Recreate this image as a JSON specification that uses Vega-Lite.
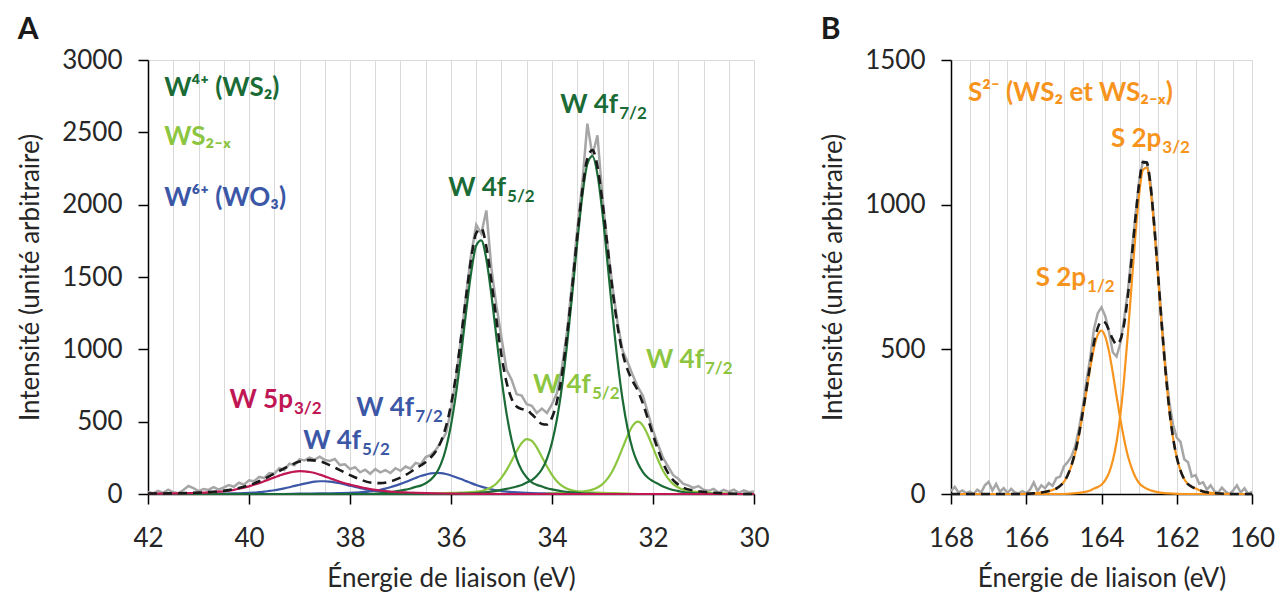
{
  "$schema": "https://vega.github.io/schema/vega-lite/v6.json",
  "padding": {"left": 17, "top": 14, "right": 4, "bottom": 0},
  "spacing": 50,
  "config": {
    "font": "Lato",
    "view": {"stroke": "#d9d9d9", "strokeWidth": 1},
    "axis": {"labelFont": "Lato", "titleFont": "Lato", "labelFontSize": 26, "titleFontSize": 26, "titleFontWeight": "normal", "labelColor": "#262626", "titleColor": "#262626", "domainColor": "#000000", "tickColor": "#000000", "domainWidth": 1.5, "tickWidth": 1.5, "tickSize": 10},
    "title": {"font": "Lato", "fontSize": 30, "fontWeight": "bold", "color": "#1a1a1a", "anchor": "start", "frame": "bounds", "offset": 2}
  },
  "datasets": {
    "Araw": [{"x":42,"y":15},{"x":41.9,"y":5},{"x":41.8,"y":22},{"x":41.7,"y":8},{"x":41.6,"y":30},{"x":41.5,"y":12},{"x":41.4,"y":5},{"x":41.3,"y":28},{"x":41.2,"y":55},{"x":41.1,"y":40},{"x":41,"y":20},{"x":40.9,"y":35},{"x":40.8,"y":28},{"x":40.7,"y":48},{"x":40.6,"y":30},{"x":40.5,"y":45},{"x":40.4,"y":62},{"x":40.3,"y":50},{"x":40.2,"y":78},{"x":40.1,"y":65},{"x":40,"y":95},{"x":39.9,"y":88},{"x":39.8,"y":118},{"x":39.7,"y":110},{"x":39.6,"y":145},{"x":39.5,"y":140},{"x":39.4,"y":178},{"x":39.3,"y":165},{"x":39.2,"y":210},{"x":39.1,"y":198},{"x":39,"y":240},{"x":38.9,"y":232},{"x":38.8,"y":252},{"x":38.7,"y":238},{"x":38.6,"y":258},{"x":38.5,"y":236},{"x":38.4,"y":228},{"x":38.3,"y":242},{"x":38.2,"y":200},{"x":38.1,"y":205},{"x":38,"y":172},{"x":37.9,"y":185},{"x":37.8,"y":150},{"x":37.7,"y":168},{"x":37.6,"y":140},{"x":37.5,"y":172},{"x":37.4,"y":150},{"x":37.3,"y":165},{"x":37.2,"y":145},{"x":37.1,"y":178},{"x":37,"y":160},{"x":36.9,"y":190},{"x":36.8,"y":175},{"x":36.7,"y":215},{"x":36.6,"y":205},{"x":36.5,"y":255},{"x":36.4,"y":270},{"x":36.3,"y":305},{"x":36.2,"y":360},{"x":36.1,"y":420},{"x":36,"y":580},{"x":35.9,"y":800},{"x":35.8,"y":1080},{"x":35.7,"y":1380},{"x":35.6,"y":1660},{"x":35.5,"y":1860},{"x":35.4,"y":1800},{"x":35.3,"y":1960},{"x":35.2,"y":1560},{"x":35.1,"y":1300},{"x":35,"y":1080},{"x":34.9,"y":860},{"x":34.8,"y":790},{"x":34.7,"y":690},{"x":34.6,"y":680},{"x":34.5,"y":620},{"x":34.4,"y":610},{"x":34.3,"y":560},{"x":34.2,"y":590},{"x":34.1,"y":560},{"x":34,"y":620},{"x":33.9,"y":700},{"x":33.8,"y":880},{"x":33.7,"y":1130},{"x":33.6,"y":1470},{"x":33.5,"y":1830},{"x":33.4,"y":2150},{"x":33.3,"y":2560},{"x":33.2,"y":2340},{"x":33.1,"y":2480},{"x":33,"y":2050},{"x":32.9,"y":1720},{"x":32.8,"y":1430},{"x":32.7,"y":1180},{"x":32.6,"y":990},{"x":32.5,"y":910},{"x":32.4,"y":820},{"x":32.3,"y":740},{"x":32.2,"y":680},{"x":32.1,"y":560},{"x":32,"y":440},{"x":31.9,"y":340},{"x":31.8,"y":250},{"x":31.7,"y":190},{"x":31.6,"y":130},{"x":31.5,"y":105},{"x":31.4,"y":70},{"x":31.3,"y":60},{"x":31.2,"y":42},{"x":31.1,"y":55},{"x":31,"y":30},{"x":30.9,"y":22},{"x":30.8,"y":35},{"x":30.7,"y":10},{"x":30.6,"y":28},{"x":30.5,"y":15},{"x":30.4,"y":30},{"x":30.3,"y":8},{"x":30.2,"y":25},{"x":30.1,"y":12},{"x":30,"y":18}],
    "Aenv": [{"x":42,"y":3},{"x":41.6,"y":4},{"x":41.2,"y":7},{"x":40.8,"y":13},{"x":40.6,"y":19},{"x":40.4,"y":27},{"x":40.2,"y":41},{"x":40,"y":61},{"x":39.8,"y":88},{"x":39.6,"y":122},{"x":39.4,"y":159},{"x":39.2,"y":195},{"x":39,"y":224},{"x":38.8,"y":234},{"x":38.6,"y":226},{"x":38.4,"y":199},{"x":38.2,"y":165},{"x":38,"y":130},{"x":37.8,"y":101},{"x":37.6,"y":79},{"x":37.4,"y":75},{"x":37.2,"y":87},{"x":37,"y":113},{"x":36.9,"y":131},{"x":36.8,"y":152},{"x":36.7,"y":176},{"x":36.6,"y":197},{"x":36.5,"y":221},{"x":36.4,"y":253},{"x":36.3,"y":296},{"x":36.2,"y":362},{"x":36.1,"y":466},{"x":36,"y":617},{"x":35.9,"y":824},{"x":35.8,"y":1084},{"x":35.7,"y":1368},{"x":35.6,"y":1629},{"x":35.5,"y":1804},{"x":35.4,"y":1836},{"x":35.3,"y":1709},{"x":35.2,"y":1473},{"x":35.1,"y":1203},{"x":35,"y":958},{"x":34.9,"y":772},{"x":34.8,"y":659},{"x":34.7,"y":605},{"x":34.6,"y":588},{"x":34.5,"y":582},{"x":34.4,"y":551},{"x":34.3,"y":516},{"x":34.2,"y":484},{"x":34.1,"y":480},{"x":34,"y":528},{"x":33.9,"y":643},{"x":33.8,"y":834},{"x":33.7,"y":1105},{"x":33.6,"y":1429},{"x":33.5,"y":1781},{"x":33.4,"y":2097},{"x":33.3,"y":2318},{"x":33.2,"y":2377},{"x":33.1,"y":2264},{"x":33,"y":2015},{"x":32.9,"y":1708},{"x":32.8,"y":1407},{"x":32.7,"y":1155},{"x":32.6,"y":972},{"x":32.5,"y":856},{"x":32.4,"y":779},{"x":32.3,"y":714},{"x":32.2,"y":625},{"x":32.1,"y":518},{"x":32,"y":409},{"x":31.9,"y":305},{"x":31.8,"y":213},{"x":31.7,"y":144},{"x":31.6,"y":96},{"x":31.5,"y":65},{"x":31.4,"y":44},{"x":31.2,"y":24},{"x":31,"y":15},{"x":30.6,"y":4},{"x":30,"y":0}],
    "Afit": [
      {"s":"P5","g":"bl","x":30,"y":0},{"s":"P5","g":"bl","x":33,"y":0},{"s":"P5","g":"bl","x":33.5,"y":2},{"s":"P5","g":"bl","x":34,"y":4},{"s":"P5","g":"bl","x":34.4,"y":7},{"s":"P5","g":"bl","x":34.6,"y":10},{"s":"P5","g":"bl","x":34.8,"y":14},{"s":"P5","g":"bl","x":34.9,"y":16},{"s":"P5","g":"bl","x":35,"y":20},{"s":"P5","g":"bl","x":35.1,"y":26},{"s":"P5","g":"bl","x":35.2,"y":32},{"s":"P5","g":"bl","x":35.3,"y":41},{"s":"P5","g":"bl","x":35.4,"y":51},{"s":"P5","g":"bl","x":35.5,"y":62},{"s":"P5","g":"bl","x":35.6,"y":75},{"s":"P5","g":"bl","x":35.7,"y":89},{"s":"P5","g":"bl","x":35.8,"y":103},{"s":"P5","g":"bl","x":35.9,"y":116},{"s":"P5","g":"bl","x":36,"y":128},{"s":"P5","g":"bl","x":36.1,"y":138},{"s":"P5","g":"bl","x":36.2,"y":144},{"s":"P5","g":"bl","x":36.3,"y":145},{"s":"P5","g":"bl","x":36.4,"y":142},{"s":"P5","g":"bl","x":36.5,"y":134},{"s":"P5","g":"bl","x":36.6,"y":124},{"s":"P5","g":"bl","x":36.7,"y":111},{"s":"P5","g":"bl","x":36.8,"y":97},{"s":"P5","g":"bl","x":36.9,"y":83},{"s":"P5","g":"bl","x":37,"y":70},{"s":"P5","g":"bl","x":37.1,"y":58},{"s":"P5","g":"bl","x":37.2,"y":47},{"s":"P5","g":"bl","x":37.3,"y":37},{"s":"P5","g":"bl","x":37.4,"y":29},{"s":"P5","g":"bl","x":37.5,"y":23},{"s":"P5","g":"bl","x":37.6,"y":18},{"s":"P5","g":"bl","x":37.8,"y":12},{"s":"P5","g":"bl","x":38,"y":8},{"s":"P5","g":"bl","x":38.2,"y":6},{"s":"P5","g":"bl","x":38.6,"y":4},{"s":"P5","g":"bl","x":39,"y":2},{"s":"P5","g":"bl","x":39.5,"y":0},{"s":"P5","g":"bl","x":42,"y":0},
      {"s":"P6","g":"bl","x":30,"y":0},{"s":"P6","g":"bl","x":35.5,"y":0},{"s":"P6","g":"bl","x":36,"y":1},{"s":"P6","g":"bl","x":36.5,"y":3},{"s":"P6","g":"bl","x":36.8,"y":5},{"s":"P6","g":"bl","x":37,"y":7},{"s":"P6","g":"bl","x":37.2,"y":11},{"s":"P6","g":"bl","x":37.3,"y":13},{"s":"P6","g":"bl","x":37.4,"y":17},{"s":"P6","g":"bl","x":37.5,"y":22},{"s":"P6","g":"bl","x":37.6,"y":27},{"s":"P6","g":"bl","x":37.7,"y":34},{"s":"P6","g":"bl","x":37.8,"y":41},{"s":"P6","g":"bl","x":37.9,"y":49},{"s":"P6","g":"bl","x":38,"y":57},{"s":"P6","g":"bl","x":38.1,"y":66},{"s":"P6","g":"bl","x":38.2,"y":74},{"s":"P6","g":"bl","x":38.3,"y":80},{"s":"P6","g":"bl","x":38.4,"y":85},{"s":"P6","g":"bl","x":38.5,"y":88},{"s":"P6","g":"bl","x":38.6,"y":88},{"s":"P6","g":"bl","x":38.7,"y":85},{"s":"P6","g":"bl","x":38.8,"y":79},{"s":"P6","g":"bl","x":38.9,"y":72},{"s":"P6","g":"bl","x":39,"y":64},{"s":"P6","g":"bl","x":39.1,"y":56},{"s":"P6","g":"bl","x":39.2,"y":47},{"s":"P6","g":"bl","x":39.3,"y":39},{"s":"P6","g":"bl","x":39.4,"y":32},{"s":"P6","g":"bl","x":39.5,"y":26},{"s":"P6","g":"bl","x":39.6,"y":21},{"s":"P6","g":"bl","x":39.7,"y":16},{"s":"P6","g":"bl","x":39.8,"y":13},{"s":"P6","g":"bl","x":39.9,"y":10},{"s":"P6","g":"bl","x":40.1,"y":6},{"s":"P6","g":"bl","x":40.3,"y":4},{"s":"P6","g":"bl","x":40.6,"y":3},{"s":"P6","g":"bl","x":41,"y":1},{"s":"P6","g":"bl","x":41.5,"y":0},{"s":"P6","g":"bl","x":42,"y":0},
      {"s":"P3","g":"lg","x":30,"y":0},{"s":"P3","g":"lg","x":30.4,"y":0},{"s":"P3","g":"lg","x":30.6,"y":4},{"s":"P3","g":"lg","x":30.8,"y":7},{"s":"P3","g":"lg","x":31,"y":12},{"s":"P3","g":"lg","x":31.2,"y":17},{"s":"P3","g":"lg","x":31.3,"y":22},{"s":"P3","g":"lg","x":31.4,"y":30},{"s":"P3","g":"lg","x":31.5,"y":45},{"s":"P3","g":"lg","x":31.6,"y":68},{"s":"P3","g":"lg","x":31.7,"y":106},{"s":"P3","g":"lg","x":31.8,"y":161},{"s":"P3","g":"lg","x":31.9,"y":235},{"s":"P3","g":"lg","x":32,"y":320},{"s":"P3","g":"lg","x":32.1,"y":406},{"s":"P3","g":"lg","x":32.2,"y":473},{"s":"P3","g":"lg","x":32.3,"y":500},{"s":"P3","g":"lg","x":32.4,"y":473},{"s":"P3","g":"lg","x":32.5,"y":406},{"s":"P3","g":"lg","x":32.6,"y":320},{"s":"P3","g":"lg","x":32.7,"y":235},{"s":"P3","g":"lg","x":32.8,"y":161},{"s":"P3","g":"lg","x":32.9,"y":106},{"s":"P3","g":"lg","x":33,"y":68},{"s":"P3","g":"lg","x":33.1,"y":45},{"s":"P3","g":"lg","x":33.2,"y":30},{"s":"P3","g":"lg","x":33.3,"y":22},{"s":"P3","g":"lg","x":33.4,"y":17},{"s":"P3","g":"lg","x":33.6,"y":12},{"s":"P3","g":"lg","x":33.8,"y":7},{"s":"P3","g":"lg","x":34,"y":4},{"s":"P3","g":"lg","x":34.2,"y":0},{"s":"P3","g":"lg","x":42,"y":0},
      {"s":"P4","g":"lg","x":30,"y":0},{"s":"P4","g":"lg","x":32.2,"y":0},{"s":"P4","g":"lg","x":32.5,"y":3},{"s":"P4","g":"lg","x":32.8,"y":6},{"s":"P4","g":"lg","x":33,"y":8},{"s":"P4","g":"lg","x":33.2,"y":10},{"s":"P4","g":"lg","x":33.3,"y":11},{"s":"P4","g":"lg","x":33.4,"y":14},{"s":"P4","g":"lg","x":33.5,"y":18},{"s":"P4","g":"lg","x":33.6,"y":25},{"s":"P4","g":"lg","x":33.7,"y":37},{"s":"P4","g":"lg","x":33.8,"y":56},{"s":"P4","g":"lg","x":33.9,"y":87},{"s":"P4","g":"lg","x":34,"y":132},{"s":"P4","g":"lg","x":34.1,"y":190},{"s":"P4","g":"lg","x":34.2,"y":256},{"s":"P4","g":"lg","x":34.3,"y":321},{"s":"P4","g":"lg","x":34.4,"y":367},{"s":"P4","g":"lg","x":34.5,"y":379},{"s":"P4","g":"lg","x":34.6,"y":352},{"s":"P4","g":"lg","x":34.7,"y":296},{"s":"P4","g":"lg","x":34.8,"y":229},{"s":"P4","g":"lg","x":34.9,"y":165},{"s":"P4","g":"lg","x":35,"y":113},{"s":"P4","g":"lg","x":35.1,"y":73},{"s":"P4","g":"lg","x":35.2,"y":47},{"s":"P4","g":"lg","x":35.3,"y":31},{"s":"P4","g":"lg","x":35.4,"y":21},{"s":"P4","g":"lg","x":35.5,"y":16},{"s":"P4","g":"lg","x":35.6,"y":13},{"s":"P4","g":"lg","x":35.8,"y":10},{"s":"P4","g":"lg","x":36,"y":8},{"s":"P4","g":"lg","x":36.3,"y":5},{"s":"P4","g":"lg","x":36.6,"y":3},{"s":"P4","g":"lg","x":37,"y":0},{"s":"P4","g":"lg","x":42,"y":0},
      {"s":"P1","g":"dg","x":30,"y":0},{"s":"P1","g":"dg","x":30.6,"y":0},{"s":"P1","g":"dg","x":31,"y":3},{"s":"P1","g":"dg","x":31.2,"y":7},{"s":"P1","g":"dg","x":31.4,"y":14},{"s":"P1","g":"dg","x":31.5,"y":20},{"s":"P1","g":"dg","x":31.6,"y":28},{"s":"P1","g":"dg","x":31.7,"y":38},{"s":"P1","g":"dg","x":31.8,"y":52},{"s":"P1","g":"dg","x":31.9,"y":70},{"s":"P1","g":"dg","x":32,"y":89},{"s":"P1","g":"dg","x":32.1,"y":112},{"s":"P1","g":"dg","x":32.2,"y":152},{"s":"P1","g":"dg","x":32.3,"y":213},{"s":"P1","g":"dg","x":32.4,"y":304},{"s":"P1","g":"dg","x":32.5,"y":447},{"s":"P1","g":"dg","x":32.6,"y":648},{"s":"P1","g":"dg","x":32.7,"y":915},{"s":"P1","g":"dg","x":32.8,"y":1240},{"s":"P1","g":"dg","x":32.9,"y":1594},{"s":"P1","g":"dg","x":33,"y":1939},{"s":"P1","g":"dg","x":33.1,"y":2209},{"s":"P1","g":"dg","x":33.2,"y":2335},{"s":"P1","g":"dg","x":33.3,"y":2281},{"s":"P1","g":"dg","x":33.4,"y":2059},{"s":"P1","g":"dg","x":33.5,"y":1739},{"s":"P1","g":"dg","x":33.6,"y":1378},{"s":"P1","g":"dg","x":33.7,"y":1039},{"s":"P1","g":"dg","x":33.8,"y":749},{"s":"P1","g":"dg","x":33.9,"y":522},{"s":"P1","g":"dg","x":34,"y":356},{"s":"P1","g":"dg","x":34.1,"y":243},{"s":"P1","g":"dg","x":34.2,"y":171},{"s":"P1","g":"dg","x":34.3,"y":126},{"s":"P1","g":"dg","x":34.4,"y":96},{"s":"P1","g":"dg","x":34.5,"y":80},{"s":"P1","g":"dg","x":34.6,"y":62},{"s":"P1","g":"dg","x":34.7,"y":52},{"s":"P1","g":"dg","x":34.8,"y":43},{"s":"P1","g":"dg","x":34.9,"y":35},{"s":"P1","g":"dg","x":35,"y":28},{"s":"P1","g":"dg","x":35.2,"y":17},{"s":"P1","g":"dg","x":35.4,"y":10},{"s":"P1","g":"dg","x":35.6,"y":5},{"s":"P1","g":"dg","x":35.8,"y":2},{"s":"P1","g":"dg","x":36,"y":0},{"s":"P1","g":"dg","x":42,"y":0},
      {"s":"P2","g":"dg","x":30,"y":0},{"s":"P2","g":"dg","x":33,"y":0},{"s":"P2","g":"dg","x":33.2,"y":2},{"s":"P2","g":"dg","x":33.4,"y":5},{"s":"P2","g":"dg","x":33.6,"y":11},{"s":"P2","g":"dg","x":33.8,"y":19},{"s":"P2","g":"dg","x":33.9,"y":25},{"s":"P2","g":"dg","x":34,"y":32},{"s":"P2","g":"dg","x":34.1,"y":40},{"s":"P2","g":"dg","x":34.2,"y":52},{"s":"P2","g":"dg","x":34.3,"y":63},{"s":"P2","g":"dg","x":34.4,"y":81},{"s":"P2","g":"dg","x":34.5,"y":114},{"s":"P2","g":"dg","x":34.6,"y":164},{"s":"P2","g":"dg","x":34.7,"y":245},{"s":"P2","g":"dg","x":34.8,"y":373},{"s":"P2","g":"dg","x":34.9,"y":556},{"s":"P2","g":"dg","x":35,"y":797},{"s":"P2","g":"dg","x":35.1,"y":1082},{"s":"P2","g":"dg","x":35.2,"y":1376},{"s":"P2","g":"dg","x":35.3,"y":1623},{"s":"P2","g":"dg","x":35.4,"y":1753},{"s":"P2","g":"dg","x":35.5,"y":1718},{"s":"P2","g":"dg","x":35.6,"y":1533},{"s":"P2","g":"dg","x":35.7,"y":1262},{"s":"P2","g":"dg","x":35.8,"y":966},{"s":"P2","g":"dg","x":35.9,"y":695},{"s":"P2","g":"dg","x":36,"y":477},{"s":"P2","g":"dg","x":36.1,"y":315},{"s":"P2","g":"dg","x":36.2,"y":206},{"s":"P2","g":"dg","x":36.3,"y":139},{"s":"P2","g":"dg","x":36.4,"y":99},{"s":"P2","g":"dg","x":36.5,"y":74},{"s":"P2","g":"dg","x":36.6,"y":58},{"s":"P2","g":"dg","x":36.7,"y":49},{"s":"P2","g":"dg","x":36.8,"y":38},{"s":"P2","g":"dg","x":36.9,"y":30},{"s":"P2","g":"dg","x":37,"y":23},{"s":"P2","g":"dg","x":37.2,"y":12},{"s":"P2","g":"dg","x":37.4,"y":5},{"s":"P2","g":"dg","x":37.6,"y":0},{"s":"P2","g":"dg","x":42,"y":0},
      {"s":"P7","g":"cr","x":30,"y":0},{"s":"P7","g":"cr","x":35,"y":0},{"s":"P7","g":"cr","x":35.5,"y":1},{"s":"P7","g":"cr","x":36,"y":3},{"s":"P7","g":"cr","x":36.5,"y":6},{"s":"P7","g":"cr","x":36.9,"y":11},{"s":"P7","g":"cr","x":37.1,"y":14},{"s":"P7","g":"cr","x":37.3,"y":20},{"s":"P7","g":"cr","x":37.4,"y":24},{"s":"P7","g":"cr","x":37.5,"y":29},{"s":"P7","g":"cr","x":37.6,"y":34},{"s":"P7","g":"cr","x":37.7,"y":41},{"s":"P7","g":"cr","x":37.8,"y":48},{"s":"P7","g":"cr","x":37.9,"y":56},{"s":"P7","g":"cr","x":38,"y":65},{"s":"P7","g":"cr","x":38.1,"y":74},{"s":"P7","g":"cr","x":38.2,"y":85},{"s":"P7","g":"cr","x":38.3,"y":97},{"s":"P7","g":"cr","x":38.4,"y":109},{"s":"P7","g":"cr","x":38.5,"y":122},{"s":"P7","g":"cr","x":38.6,"y":134},{"s":"P7","g":"cr","x":38.7,"y":145},{"s":"P7","g":"cr","x":38.8,"y":152},{"s":"P7","g":"cr","x":38.9,"y":157},{"s":"P7","g":"cr","x":39,"y":158},{"s":"P7","g":"cr","x":39.1,"y":155},{"s":"P7","g":"cr","x":39.2,"y":148},{"s":"P7","g":"cr","x":39.3,"y":139},{"s":"P7","g":"cr","x":39.4,"y":127},{"s":"P7","g":"cr","x":39.5,"y":115},{"s":"P7","g":"cr","x":39.6,"y":101},{"s":"P7","g":"cr","x":39.7,"y":88},{"s":"P7","g":"cr","x":39.8,"y":75},{"s":"P7","g":"cr","x":39.9,"y":64},{"s":"P7","g":"cr","x":40,"y":53},{"s":"P7","g":"cr","x":40.1,"y":44},{"s":"P7","g":"cr","x":40.2,"y":36},{"s":"P7","g":"cr","x":40.3,"y":29},{"s":"P7","g":"cr","x":40.4,"y":23},{"s":"P7","g":"cr","x":40.5,"y":19},{"s":"P7","g":"cr","x":40.6,"y":16},{"s":"P7","g":"cr","x":40.8,"y":11},{"s":"P7","g":"cr","x":41,"y":8},{"s":"P7","g":"cr","x":41.4,"y":5},{"s":"P7","g":"cr","x":42,"y":3}
    ],
    "Alab": [
      {"x":34.91,"y":2063,"m":"W 4f","sub":"5/2","g":"dg"},
      {"x":32.69,"y":2636,"m":"W 4f","sub":"7/2","g":"dg"},
      {"x":33.23,"y":701,"m":"W 4f","sub":"5/2","g":"lg"},
      {"x":30.99,"y":874,"m":"W 4f","sub":"7/2","g":"lg"},
      {"x":39.13,"y":597,"m":"W 5p","sub":"3/2","g":"cr"},
      {"x":36.73,"y":542,"m":"W 4f","sub":"7/2","g":"bl"},
      {"x":37.78,"y":314,"m":"W 4f","sub":"5/2","g":"bl"}
    ],
    "Aleg": [
      {"x":41.68,"y":2754,"t":"W⁴⁺ (WS₂)","g":"dg"},
      {"x":41.68,"y":2414,"t":"WS₂₋ₓ","g":"lg"},
      {"x":41.68,"y":1992,"t":"W⁶⁺ (WO₃)","g":"bl"}
    ],
    "Braw": [{"x":168,"y":10},{"x":167.9,"y":25},{"x":167.8,"y":5},{"x":167.7,"y":12},{"x":167.6,"y":3},{"x":167.5,"y":8},{"x":167.4,"y":0},{"x":167.3,"y":15},{"x":167.2,"y":5},{"x":167.1,"y":30},{"x":167,"y":42},{"x":166.9,"y":12},{"x":166.8,"y":35},{"x":166.7,"y":8},{"x":166.6,"y":20},{"x":166.5,"y":3},{"x":166.4,"y":18},{"x":166.3,"y":5},{"x":166.2,"y":2},{"x":166.1,"y":10},{"x":166,"y":2},{"x":165.9,"y":15},{"x":165.8,"y":40},{"x":165.7,"y":10},{"x":165.6,"y":30},{"x":165.5,"y":20},{"x":165.4,"y":38},{"x":165.3,"y":28},{"x":165.2,"y":55},{"x":165.1,"y":60},{"x":165,"y":95},{"x":164.9,"y":110},{"x":164.8,"y":130},{"x":164.7,"y":165},{"x":164.6,"y":225},{"x":164.5,"y":300},{"x":164.4,"y":390},{"x":164.3,"y":470},{"x":164.2,"y":570},{"x":164.1,"y":625},{"x":164,"y":645},{"x":163.9,"y":615},{"x":163.8,"y":560},{"x":163.7,"y":490},{"x":163.6,"y":475},{"x":163.5,"y":520},{"x":163.4,"y":605},{"x":163.3,"y":700},{"x":163.2,"y":830},{"x":163.1,"y":960},{"x":163,"y":1080},{"x":162.9,"y":1150},{"x":162.8,"y":1145},{"x":162.7,"y":1080},{"x":162.6,"y":940},{"x":162.5,"y":770},{"x":162.4,"y":600},{"x":162.3,"y":440},{"x":162.2,"y":320},{"x":162.1,"y":240},{"x":162,"y":195},{"x":161.9,"y":180},{"x":161.8,"y":120},{"x":161.7,"y":110},{"x":161.6,"y":60},{"x":161.5,"y":65},{"x":161.4,"y":35},{"x":161.3,"y":40},{"x":161.2,"y":15},{"x":161.1,"y":30},{"x":161,"y":10},{"x":160.9,"y":5},{"x":160.8,"y":22},{"x":160.7,"y":8},{"x":160.6,"y":0},{"x":160.5,"y":12},{"x":160.4,"y":30},{"x":160.3,"y":5},{"x":160.2,"y":20},{"x":160.1,"y":0},{"x":160,"y":8}],
    "Benv": [{"x":168,"y":0},{"x":166.2,"y":0},{"x":165.8,"y":2},{"x":165.6,"y":5},{"x":165.4,"y":10},{"x":165.3,"y":14},{"x":165.2,"y":19},{"x":165.1,"y":28},{"x":165,"y":42},{"x":164.9,"y":65},{"x":164.8,"y":99},{"x":164.7,"y":144},{"x":164.6,"y":206},{"x":164.5,"y":281},{"x":164.4,"y":363},{"x":164.3,"y":447},{"x":164.2,"y":523},{"x":164.1,"y":574},{"x":164,"y":597},{"x":163.9,"y":592},{"x":163.8,"y":565},{"x":163.7,"y":535},{"x":163.6,"y":517},{"x":163.5,"y":532},{"x":163.4,"y":587},{"x":163.3,"y":684},{"x":163.2,"y":813},{"x":163.1,"y":950},{"x":163,"y":1072},{"x":162.9,"y":1146},{"x":162.8,"y":1146},{"x":162.7,"y":1070},{"x":162.6,"y":930},{"x":162.5,"y":763},{"x":162.4,"y":587},{"x":162.3,"y":428},{"x":162.2,"y":295},{"x":162.1,"y":196},{"x":162,"y":127},{"x":161.9,"y":81},{"x":161.8,"y":51},{"x":161.7,"y":34},{"x":161.6,"y":25},{"x":161.5,"y":19},{"x":161.4,"y":13},{"x":161.3,"y":9},{"x":161.2,"y":6},{"x":161,"y":3},{"x":160.5,"y":0},{"x":160,"y":0}],
    "Bfit": [
      {"s":"Q2","x":160,"y":0},{"s":"Q2","x":161.8,"y":0},{"s":"Q2","x":162.2,"y":2},{"s":"Q2","x":162.4,"y":4},{"s":"Q2","x":162.6,"y":9},{"s":"Q2","x":162.7,"y":13},{"s":"Q2","x":162.8,"y":18},{"s":"Q2","x":162.9,"y":26},{"s":"Q2","x":163,"y":38},{"s":"Q2","x":163.1,"y":59},{"s":"Q2","x":163.2,"y":90},{"s":"Q2","x":163.3,"y":132},{"s":"Q2","x":163.4,"y":190},{"s":"Q2","x":163.5,"y":260},{"s":"Q2","x":163.6,"y":338},{"s":"Q2","x":163.7,"y":419},{"s":"Q2","x":163.8,"y":492},{"s":"Q2","x":163.9,"y":544},{"s":"Q2","x":164,"y":565},{"s":"Q2","x":164.1,"y":550},{"s":"Q2","x":164.2,"y":504},{"s":"Q2","x":164.3,"y":435},{"s":"Q2","x":164.4,"y":355},{"s":"Q2","x":164.5,"y":275},{"s":"Q2","x":164.6,"y":202},{"s":"Q2","x":164.7,"y":141},{"s":"Q2","x":164.8,"y":97},{"s":"Q2","x":164.9,"y":64},{"s":"Q2","x":165,"y":42},{"s":"Q2","x":165.1,"y":28},{"s":"Q2","x":165.2,"y":19},{"s":"Q2","x":165.3,"y":14},{"s":"Q2","x":165.4,"y":10},{"s":"Q2","x":165.6,"y":5},{"s":"Q2","x":165.8,"y":2},{"s":"Q2","x":166.2,"y":0},{"s":"Q2","x":168,"y":0},
      {"s":"Q1","x":160,"y":0},{"s":"Q1","x":160.5,"y":0},{"s":"Q1","x":161,"y":3},{"s":"Q1","x":161.2,"y":6},{"s":"Q1","x":161.3,"y":9},{"s":"Q1","x":161.4,"y":13},{"s":"Q1","x":161.5,"y":19},{"s":"Q1","x":161.6,"y":25},{"s":"Q1","x":161.7,"y":34},{"s":"Q1","x":161.8,"y":51},{"s":"Q1","x":161.9,"y":81},{"s":"Q1","x":162,"y":126},{"s":"Q1","x":162.1,"y":195},{"s":"Q1","x":162.2,"y":293},{"s":"Q1","x":162.3,"y":425},{"s":"Q1","x":162.4,"y":583},{"s":"Q1","x":162.5,"y":757},{"s":"Q1","x":162.6,"y":921},{"s":"Q1","x":162.7,"y":1057},{"s":"Q1","x":162.8,"y":1128},{"s":"Q1","x":162.9,"y":1120},{"s":"Q1","x":163,"y":1034},{"s":"Q1","x":163.1,"y":891},{"s":"Q1","x":163.2,"y":723},{"s":"Q1","x":163.3,"y":552},{"s":"Q1","x":163.4,"y":397},{"s":"Q1","x":163.5,"y":272},{"s":"Q1","x":163.6,"y":179},{"s":"Q1","x":163.7,"y":116},{"s":"Q1","x":163.8,"y":73},{"s":"Q1","x":163.9,"y":48},{"s":"Q1","x":164,"y":32},{"s":"Q1","x":164.1,"y":24},{"s":"Q1","x":164.2,"y":19},{"s":"Q1","x":164.3,"y":12},{"s":"Q1","x":164.4,"y":8},{"s":"Q1","x":164.6,"y":4},{"s":"Q1","x":165,"y":0},{"s":"Q1","x":168,"y":0}
    ],
    "Blab": [
      {"x":162.41,"y":1201,"m":"S 2p","sub":"3/2"},
      {"x":164.41,"y":720,"m":"S 2p","sub":"1/2"}
    ],
    "Bleg": [
      {"x":167.55,"y":1360,"t":"S²⁻ (WS₂ et WS₂₋ₓ)"}
    ]
  },
  "hconcat": [
    {
      "width": 606,
      "height": 434,
      "title": {"text": "A"},
      "encoding": {
        "x": {"field": "x", "type": "quantitative",
          "scale": {"domain": [30, 42], "reverse": true, "nice": false, "zero": false},
          "axis": {"title": "Énergie de liaison (eV)", "values": [30,30.5,31,31.5,32,32.5,33,33.5,34,34.5,35,35.5,36,36.5,37,37.5,38,38.5,39,39.5,40,40.5,41,41.5,42], "grid": true, "gridColor": "#d9d9d9", "gridWidth": 1, "labelExpr": "datum.value % 2 === 0 ? format(datum.value, 'd') : ''", "labelOverlap": false, "labelFlush": false, "tickOpacity": {"condition": {"test": "datum.value % 2 === 0", "value": 1}, "value": 0}, "labelPadding": 21, "titlePadding": 14}},
        "y": {"field": "y", "type": "quantitative",
          "scale": {"domain": [0, 3000], "nice": false},
          "axis": {"title": "Intensité (unité arbitraire)", "format": "d", "values": [0,500,1000,1500,2000,2500,3000], "grid": false, "labelPadding": 16, "titlePadding": 18}}
      },
      "layer": [
        {"data": {"name": "Araw"}, "mark": {"type": "line", "color": "#a6a6a6", "strokeWidth": 2.5}},
        {"data": {"name": "Afit"}, "mark": {"type": "line", "strokeWidth": 2.2, "interpolate": "monotone"},
          "encoding": {"color": {"field": "g", "type": "nominal", "scale": {"domain": ["dg","lg","bl","cr"], "range": ["#1a6b35","#8cc53f","#3b57a6","#c01654"]}, "legend": null}, "detail": {"field": "s"}}},
        {"data": {"name": "Aenv"}, "mark": {"type": "line", "color": "#1a1a1a", "strokeWidth": 2.6, "strokeDash": [9, 6], "interpolate": "monotone"}},
        {"data": {"name": "Alab"}, "mark": {"type": "text", "align": "right", "baseline": "alphabetic", "fontSize": 26, "fontWeight": "bold", "font": "Lato"},
          "encoding": {"text": {"field": "m"}, "color": {"field": "g", "type": "nominal", "scale": {"domain": ["dg","lg","bl","cr"], "range": ["#1a6b35","#8cc53f","#3b57a6","#c01654"]}, "legend": null}}},
        {"data": {"name": "Alab"}, "mark": {"type": "text", "align": "left", "baseline": "alphabetic", "fontSize": 17, "fontWeight": "bold", "font": "Lato", "dx": 1, "dy": 6},
          "encoding": {"text": {"field": "sub"}, "color": {"field": "g", "type": "nominal", "scale": {"domain": ["dg","lg","bl","cr"], "range": ["#1a6b35","#8cc53f","#3b57a6","#c01654"]}, "legend": null}}},
        {"data": {"name": "Aleg"}, "mark": {"type": "text", "align": "left", "baseline": "alphabetic", "fontSize": 26, "fontWeight": "bold", "font": "Lato"},
          "encoding": {"text": {"field": "t"}, "color": {"field": "g", "type": "nominal", "scale": {"domain": ["dg","lg","bl","cr"], "range": ["#1a6b35","#8cc53f","#3b57a6","#c01654"]}, "legend": null}}}
      ]
    },
    {
      "width": 301,
      "height": 434,
      "title": {"text": "B"},
      "encoding": {
        "x": {"field": "x", "type": "quantitative",
          "scale": {"domain": [160, 168], "reverse": true, "nice": false, "zero": false},
          "axis": {"title": "Énergie de liaison (eV)", "values": [160,160.5,161,161.5,162,162.5,163,163.5,164,164.5,165,165.5,166,166.5,167,167.5,168], "grid": true, "gridColor": "#d9d9d9", "gridWidth": 1, "labelExpr": "datum.value % 2 === 0 ? format(datum.value, 'd') : ''", "labelOverlap": false, "labelFlush": false, "tickOpacity": {"condition": {"test": "datum.value % 2 === 0", "value": 1}, "value": 0}, "labelPadding": 21, "titlePadding": 14}},
        "y": {"field": "y", "type": "quantitative",
          "scale": {"domain": [0, 1500], "nice": false},
          "axis": {"title": "Intensité (unité arbitraire)", "format": "d", "values": [0,500,1000,1500], "grid": false, "labelPadding": 16, "titlePadding": 18}}
      },
      "layer": [
        {"data": {"name": "Braw"}, "mark": {"type": "line", "color": "#a6a6a6", "strokeWidth": 2.5}},
        {"data": {"name": "Bfit"}, "mark": {"type": "line", "color": "#f7941d", "strokeWidth": 2.2, "interpolate": "monotone"},
          "encoding": {"detail": {"field": "s"}}},
        {"data": {"name": "Benv"}, "mark": {"type": "line", "color": "#1a1a1a", "strokeWidth": 2.6, "strokeDash": [9, 6], "interpolate": "monotone"}},
        {"data": {"name": "Blab"}, "mark": {"type": "text", "align": "right", "baseline": "alphabetic", "fontSize": 26, "fontWeight": "bold", "font": "Lato", "color": "#f7941d"},
          "encoding": {"text": {"field": "m"}}},
        {"data": {"name": "Blab"}, "mark": {"type": "text", "align": "left", "baseline": "alphabetic", "fontSize": 17, "fontWeight": "bold", "font": "Lato", "dx": 1, "dy": 6, "color": "#f7941d"},
          "encoding": {"text": {"field": "sub"}}},
        {"data": {"name": "Bleg"}, "mark": {"type": "text", "align": "left", "baseline": "alphabetic", "fontSize": 26, "fontWeight": "bold", "font": "Lato", "color": "#f7941d"},
          "encoding": {"text": {"field": "t"}}}
      ]
    }
  ]
}
